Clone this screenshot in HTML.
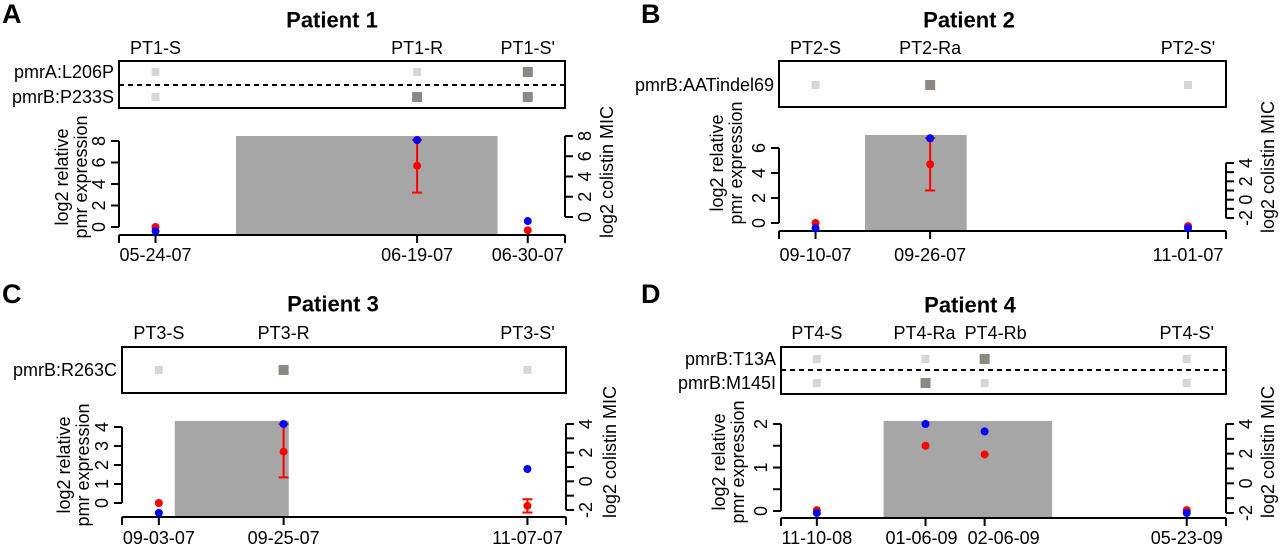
<!DOCTYPE html>
<html><head><meta charset="utf-8">
<style>
html,body{margin:0;padding:0;background:#fff;}
svg{display:block;font-family:"Liberation Sans",Arial,sans-serif;}
</style></head>
<body>
<svg id="fig" width="1280" height="547" viewBox="0 0 1280 547"></svg>
<script>
// ---------- DATA ----------
const pA_days=[0,26,37];
const pA_samples=["PT1-S","PT1-R","PT1-S'"];
const pA_dates=["05-24-07","06-19-07","06-30-07"];
const pA_mutNames=["pmrA:L206P","pmrB:P233S"];
const pA_mut=[[0,0,1],[0,1,1]];
const pA_expr=[0,5.7,-0.3];
const pA_errLo=[null,3.2,null];
const pA_errHi=[null,8.1,null];
const pA_mic=[-1.4,7.6,-0.4];
const pA_treat=[8.0,34.0];

const pB_days=[0,16,52];
const pB_samples=["PT2-S","PT2-Ra","PT2-S'"];
const pB_dates=["09-10-07","09-26-07","11-01-07"];
const pB_mutNames=["pmrB:AATindel69"];
const pB_mut=[[0,1,0]];
const pB_expr=[0,4.7,-0.25];
const pB_errLo=[null,2.6,null];
const pB_errHi=[null,6.8,null];
const pB_mic=[-3.1,6.7,-3.1];
const pB_treat=[6.9,21.1];

const pC_days=[0,22,65];
const pC_samples=["PT3-S","PT3-R","PT3-S'"];
const pC_dates=["09-03-07","09-25-07","11-07-07"];
const pC_mutNames=["pmrB:R263C"];
const pC_mut=[[0,1,0]];
const pC_expr=[0,2.7,-0.15];
const pC_errLo=[null,1.35,-0.5];
const pC_errHi=[null,4.15,0.2];
const pC_mic=[-2.2,4,0.86];
const pC_treat=[2.8,22.9];

const pD_days=[0,57,88,194];
const pD_samples=["PT4-S","PT4-Ra","PT4-Rb","PT4-S'"];
const pD_dates=["11-10-08","01-06-09","02-06-09","05-23-09"];
const pD_mutNames=["pmrB:T13A","pmrB:M145I"];
const pD_mut=[[0,0,1,0],[0,1,0,0]];
const pD_expr=[0.02,1.5,1.3,0.02];
const pD_errLo=[null,null,null,null];
const pD_errHi=[null,null,null,null];
const pD_mic=[-2,4,3.5,-2];
const pD_treat=[35,123.4];

// ---------- LAYOUT ----------
const panels=[
 {id:"a",letter:"A",title:"Patient 1",lx:2,ly:14,tx:332,ty:20,sy:48,x0:119,x1:565,dmin:-3.63,dmax:40.7,
  bt:61,bb:108,rows:[72,97],dash:85,axY:235,gTop:136,nudge:[0,0,0],dnudge:[0,0,0],
  L:{v0:0,p0:227,v1:8,p1:141,ticks:[0,2,4,6,8],labels:[0,2,4,6,8]},
  R:{v0:0,p0:217,v1:8,p1:136,ticks:[0,2,4,6,8],labels:[0,2,4,6,8]},
  ylx:[62,81],ylc:177,rlx:607,rlc:172,dateY:255,
  days:pA_days,samples:pA_samples,dates:pA_dates,mutNames:pA_mutNames,mut:pA_mut,expr:pA_expr,lo:pA_errLo,hi:pA_errHi,mic:pA_mic,treat:pA_treat},
 {id:"b",letter:"B",title:"Patient 2",lx:641,ly:14,tx:969,ty:20,sy:48,x0:779,x1:1226,dmin:-5.1,dmax:57.3,
  bt:61,bb:107,rows:[85],dash:null,axY:231,gTop:135,nudge:[0,0,0],dnudge:[0,0,0],
  L:{v0:0,p0:223,v1:6,p1:148,ticks:[0,2,4,6],labels:[0,2,4,6]},
  R:{v0:-2,p0:218,v1:4,p1:163,ticks:[-2,-1,0,1,2,3,4],labels:[-2,0,2,4]},
  ylx:[717,736],ylc:163,rlx:1268,rlc:167,dateY:255,
  days:pB_days,samples:pB_samples,dates:pB_dates,mutNames:pB_mutNames,mut:pB_mut,expr:pB_expr,lo:pB_errLo,hi:pB_errHi,mic:pB_mic,treat:pB_treat},
 {id:"c",letter:"C",title:"Patient 3",lx:2,ly:294,tx:333,ty:304,sy:333,x0:122,x1:566,dmin:-6.5,dmax:71.8,
  bt:347,bb:393,rows:[370],dash:null,axY:517,gTop:421,nudge:[0,0,0],dnudge:[0,0,0],
  L:{v0:0,p0:503,v1:4,p1:427,ticks:[0,1,2,3,4],labels:[0,1,2,3,4]},
  R:{v0:-2,p0:510,v1:4,p1:424,ticks:[-2,-1,0,1,2,3,4],labels:[-2,0,2,4]},
  ylx:[64,83],ylc:465,rlx:610,rlc:452,dateY:538,
  days:pC_days,samples:pC_samples,dates:pC_dates,mutNames:pC_mutNames,mut:pC_mut,expr:pC_expr,lo:pC_errLo,hi:pC_errHi,mic:pC_mic,treat:pC_treat},
 {id:"d",letter:"D",title:"Patient 4",lx:641,ly:294,tx:970,ty:305,sy:333,x0:781,x1:1226,dmin:-18.8,dmax:214.6,
  bt:347,bb:394,rows:[359,383],dash:370,axY:518,gTop:421,nudge:[0,-1,11,0],dnudge:[0,-4,19,0],
  L:{v0:0,p0:511,v1:2,p1:424,ticks:[0,0.5,1,1.5,2],labels:[0,1,2]},
  R:{v0:-2,p0:513,v1:4,p1:424,ticks:[-2,-1,0,1,2,3,4],labels:[-2,0,2,4]},
  ylx:[719,738],ylc:462,rlx:1268,rlc:452,dateY:538,
  days:pD_days,samples:pD_samples,dates:pD_dates,mutNames:pD_mutNames,mut:pD_mut,expr:pD_expr,lo:pD_errLo,hi:pD_errHi,mic:pD_mic,treat:pD_treat}
];

const NS="http://www.w3.org/2000/svg";
const svg=document.getElementById('fig');
function mk(tag,attrs,parent,text){
  const e=document.createElementNS(NS,tag);
  for(const k in attrs)e.setAttribute(k,attrs[k]);
  if(text!==undefined)e.textContent=text;
  parent.appendChild(e);return e;
}
function htxt(parent,x,y,str,size,anchor){
  return mk('text',{x:x,y:y,'font-size':size,'text-anchor':anchor,'dominant-baseline':'central'},parent,str);
}
function scale(s){return v=>s.p0+(v-s.v0)*(s.p1-s.p0)/(s.v1-s.v0);}

panels.forEach(p=>{
  const g=mk('g',{},svg);
  
  
  const X=d=>p.x0+(d-p.dmin)*(p.x1-p.x0)/(p.dmax-p.dmin);
  const YL=scale(p.L), YR=scale(p.R);

  let t=mk('text',{x:p.lx,y:p.ly,'font-size':27,'font-weight':'bold','dominant-baseline':'central'},g,p.letter);
  
  
  t=mk('text',{x:p.tx,y:p.ty,'font-size':22,'font-weight':'bold','text-anchor':'middle','dominant-baseline':'central'},g,p.title);
  
  

  p.samples.forEach((s,i)=>{
    const e=htxt(g,X(p.days[i])+p.nudge[i],p.sy,s,18,'middle');
    
    
  });
  const box=mk('rect',{x:p.x0,y:p.bt,width:p.x1-p.x0,height:p.bb-p.bt,fill:'none',stroke:'#000','stroke-width':2},g);
  
  
  if(p.dash){
    const dl=mk('line',{x1:p.x0,x2:p.x1,y1:p.dash,y2:p.dash,stroke:'#000','stroke-width':2,'stroke-dasharray':'5,4'},g);
    
    
  }
  p.mutNames.forEach((m,r)=>{
    const y=p.rows[r];
    const e=htxt(g,p.x0-5,y,m,18,'end');
    
    
    p.mut[r].forEach((v,i)=>{
      const sz=v?10:8;
      const sq=mk('rect',{x:X(p.days[i])-sz/2,y:y-sz/2,width:sz,height:sz,fill:v?'#8e8882':'#d6d6d6'},g);
      
      
    });
  });
  const gr=mk('rect',{x:X(p.treat[0]),y:p.gTop,width:X(p.treat[1])-X(p.treat[0]),height:p.axY-p.gTop,fill:'#a6a6a6'},g);
  
  
  const xa=mk('line',{x1:p.x0,x2:p.x1,y1:p.axY,y2:p.axY,stroke:'#000','stroke-width':2},g);
  
  
  const xt=[p.dmin].concat(p.days,[p.dmax]);
  xt.forEach(d=>{
    const l=mk('line',{x1:X(d),x2:X(d),y1:p.axY,y2:p.axY+8,stroke:'#000','stroke-width':2},g);
    
    
  });
  p.dates.forEach((s,i)=>{
    const e=htxt(g,X(p.days[i])+p.dnudge[i],p.dateY,s,18,'middle');
    
    
  });
  const lt=p.L.ticks;
  let a=mk('line',{x1:p.x0,x2:p.x0,y1:YL(lt[0]),y2:YL(lt[lt.length-1]),stroke:'#000','stroke-width':2},g);
  
  
  lt.forEach(v=>{
    const l=mk('line',{x1:p.x0-8,x2:p.x0,y1:YL(v),y2:YL(v),stroke:'#000','stroke-width':2},g);
    
    
  });
  p.L.labels.forEach(v=>{
    const y=YL(v),x=p.x0-20;
    const e=mk('text',{x:x,y:y,'font-size':18,'text-anchor':'middle','dominant-baseline':'central',transform:`rotate(-90 ${x} ${y})`},g,String(v));
    
    
  });
  const rt=p.R.ticks;
  a=mk('line',{x1:p.x1,x2:p.x1,y1:YR(rt[0]),y2:YR(rt[rt.length-1]),stroke:'#000','stroke-width':2},g);
  
  
  rt.forEach(v=>{
    const l=mk('line',{x1:p.x1,x2:p.x1+8,y1:YR(v),y2:YR(v),stroke:'#000','stroke-width':2},g);
    
    
  });
  p.R.labels.forEach(v=>{
    const y=YR(v),x=p.x1+20;
    const e=mk('text',{x:x,y:y,'font-size':18,'text-anchor':'middle','dominant-baseline':'central',transform:`rotate(-90 ${x} ${y})`},g,String(v));
    
    
  });
  [["log2 relative",p.ylx[0]],["pmr expression",p.ylx[1]]].forEach(([s,x])=>{
    const e=mk('text',{x:x,y:p.ylc,'font-size':18,'text-anchor':'middle','dominant-baseline':'central',transform:`rotate(-90 ${x} ${p.ylc})`},g,s);
    
    
  });
  t=mk('text',{x:p.rlx,y:p.rlc,'font-size':18,'text-anchor':'middle','dominant-baseline':'central',transform:`rotate(-90 ${p.rlx} ${p.rlc})`},g,"log2 colistin MIC");
  
  
  p.days.forEach((d,i)=>{
    if(p.lo[i]==null)return;
    const x=X(d);
    const eb=mk('path',{d:`M${x},${YL(p.lo[i])}V${YL(p.hi[i])}M${x-5},${YL(p.lo[i])}H${x+5}M${x-5},${YL(p.hi[i])}H${x+5}`,stroke:'#ff0000','stroke-width':2,fill:'none'},g);
    
    
  });
  p.days.forEach((d,i)=>{
    const c=mk('circle',{cx:X(d),cy:YL(p.expr[i]),r:4,fill:'#ff0000'},g);
    
    
  });
  p.days.forEach((d,i)=>{
    const c=mk('circle',{cx:X(d),cy:YR(p.mic[i]),r:4,fill:'#0000ff'},g);
    
    
  });
});
</script>
</body></html>
